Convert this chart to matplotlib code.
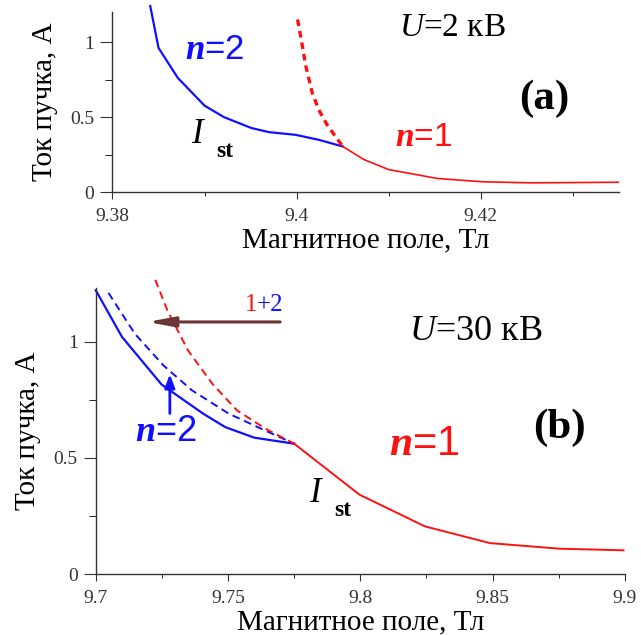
import matplotlib
matplotlib.use("Agg")
from matplotlib import pyplot as plt

plt.rcParams['font.family'] = 'Liberation Serif'
plt.rcParams['mathtext.fontset'] = 'custom'
plt.rcParams['mathtext.it'] = 'Liberation Serif:italic'
plt.rcParams['mathtext.sf'] = 'Liberation Serif:italic:bold'
plt.rcParams['mathtext.rm'] = 'Liberation Serif'

# panel (a): U = 2 kV
a_n2_x = [9.3841, 9.385, 9.3871, 9.390, 9.3921, 9.3951, 9.397, 9.3999, 9.4024, 9.405]
a_n2_y = [1.239, 0.961, 0.761, 0.577, 0.501, 0.428, 0.401, 0.383, 0.35, 0.306]
a_n1_x = [9.405, 9.4073, 9.410, 9.4153, 9.4202, 9.4255, 9.435]
a_n1_y = [0.306, 0.219, 0.152, 0.093, 0.071, 0.064, 0.068]
a_n1d_x = [9.4001, 9.4005, 9.4010, 9.4017, 9.4024, 9.4033, 9.405]
a_n1d_y = [1.15, 1.017, 0.839, 0.661, 0.55, 0.45, 0.306]

# panel (b): U = 30 kV
b_n2_x = [9.700, 9.7099, 9.7249, 9.7406, 9.749, 9.7599, 9.775]
b_n2_y = [1.22, 1.02, 0.815, 0.69, 0.632, 0.587, 0.561]
b_n1_x = [9.775, 9.7997, 9.8244, 9.849, 9.8753, 9.8995]
b_n1_y = [0.561, 0.342, 0.206, 0.134, 0.110, 0.103]
b_n2d_x = [9.7048, 9.7148, 9.7256, 9.7364, 9.7503, 9.7626, 9.775]
b_n2d_y = [1.209, 1.033, 0.897, 0.79, 0.69, 0.625, 0.561]
b_n1d_x = [9.7225, 9.7271, 9.7349, 9.7441, 9.7534, 9.7642, 9.775]
b_n1d_y = [1.265, 1.133, 0.961, 0.818, 0.704, 0.625, 0.561]

blue = '#1010ff'
red = '#ff1010'

fig = plt.figure(figsize=(6.41, 6.35), dpi=100)
ax1 = fig.add_axes([0.1755, 0.6969, 0.790, 0.2843])
ax2 = fig.add_axes([0.1494, 0.0956, 0.8254, 0.4509])

def style(ax):
    for s in ['top', 'right']:
        ax.spines[s].set_visible(False)
    for s in ['left', 'bottom']:
        ax.spines[s].set_color('#333333')
        ax.spines[s].set_linewidth(1.0)
    ax.tick_params(labelsize=14, colors='#333333', direction='out')
    ax.tick_params(axis='x', which='major', length=5, pad=6)
    ax.tick_params(axis='x', which='minor', length=3)
    ax.tick_params(axis='y', which='major', length=9, pad=4)
    ax.tick_params(axis='y', which='minor', length=5)
    ax.set_ylabel('Ток пучка, А', fontsize=21, labelpad=9)
    ax.set_xlabel('Магнитное поле, Тл', fontsize=21, labelpad=2)

# (a)
ax1.plot(a_n2_x, a_n2_y, color=blue, lw=1.6, clip_on=False)
ax1.plot(a_n1_x, a_n1_y, color=red, lw=1.2)
ax1.plot(a_n1d_x, a_n1d_y, color=red, lw=2.4, ls=(0, (2, 1.5)))
ax1.set_xlim(9.38, 9.435)
ax1.set_ylim(0, 1.2)
ax1.set_xticks([9.38, 9.40, 9.42])
ax1.set_xticklabels(['9.38', '9.4', '9.42'])
ax1.set_xticks([9.39, 9.41, 9.43], minor=True)
ax1.set_yticks([0, 0.5, 1])
ax1.set_yticklabels(['0', '0.5', '1'])
ax1.set_yticks([0.25, 0.75], minor=True)
style(ax1)

ax1.text(9.3911, 0.95, r'$\mathsf{n}$=2', color=blue, fontsize=25,
         family='Liberation Sans', va='center', ha='center')
ax1.text(9.4169, 1.097, r'$\mathit{U}$=2 кВ', fontsize=24, va='center', ha='center')
ax1.text(9.4269, 0.62, '(a)', fontsize=31, weight='bold', va='center', ha='center')
ax1.text(9.3892, 0.383, 'I', style='italic', fontsize=25, va='center', ha='center')
ax1.text(9.3922, 0.27, 'st', weight='bold', fontsize=17, va='center', ha='center')
ax1.text(9.4138, 0.367, r'$\mathsf{n}$=1', color=red, fontsize=24,
         family='Liberation Sans', va='center', ha='center')

# (b)
ax2.plot(b_n2_x, b_n2_y, color=blue, lw=1.6, clip_on=False)
ax2.plot(b_n1_x, b_n1_y, color=red, lw=1.4)
ax2.plot(b_n2d_x, b_n2d_y, color=blue, lw=1.4, ls=(0, (4, 2.5)), clip_on=False)
ax2.plot(b_n1d_x, b_n1d_y, color=red, lw=1.4, ls=(0, (4, 2.5)), clip_on=False)
ax2.set_xlim(9.7, 9.9)
ax2.set_ylim(0, 1.23)
ax2.set_xticks([9.7, 9.75, 9.8, 9.85, 9.9])
ax2.set_xticklabels(['9.7', '9.75', '9.8', '9.85', '9.9'])
ax2.set_xticks([9.725, 9.775, 9.825, 9.875], minor=True)
ax2.set_yticks([0, 0.5, 1])
ax2.set_yticklabels(['0', '0.5', '1'])
ax2.set_yticks([0.25, 0.75], minor=True)
style(ax2)

ax2.annotate('', xy=(9.7195, 1.084), xytext=(9.7697, 1.084),
             arrowprops=dict(arrowstyle='-|>,head_length=1.6,head_width=0.3',
                             color='#6b3535', lw=2.2, shrinkA=0, shrinkB=0))
ax2.text(9.7609, 1.157, '1', color=red, fontsize=18, va='center', ha='right')
ax2.text(9.7609, 1.157, '+2', color=blue, fontsize=18, va='center', ha='left')
ax2.annotate('', xy=(9.728, 0.86), xytext=(9.728, 0.691),
             arrowprops=dict(arrowstyle='-|>,head_length=0.8,head_width=0.3',
                             color=blue, lw=2, shrinkA=0, shrinkB=0))
ax2.text(9.8436, 1.044, r'$\mathit{U}$=30 кВ', fontsize=26, va='center', ha='center')
ax2.text(9.7265, 0.615, r'$\mathsf{n}$=2', color=blue, fontsize=26,
         family='Liberation Sans', va='center', ha='center')
ax2.text(9.8751, 0.628, '(b)', fontsize=31, weight='bold', va='center', ha='center')
ax2.text(9.8243, 0.559, r'$\mathsf{n}$=1', color=red, fontsize=30,
         family='Liberation Sans', va='center', ha='center')
ax2.text(9.7829, 0.345, 'I', style='italic', fontsize=25, va='center', ha='center')
ax2.text(9.7933, 0.276, 'st', weight='bold', fontsize=17, va='center', ha='center')

fig.savefig('out.png', dpi=100)
